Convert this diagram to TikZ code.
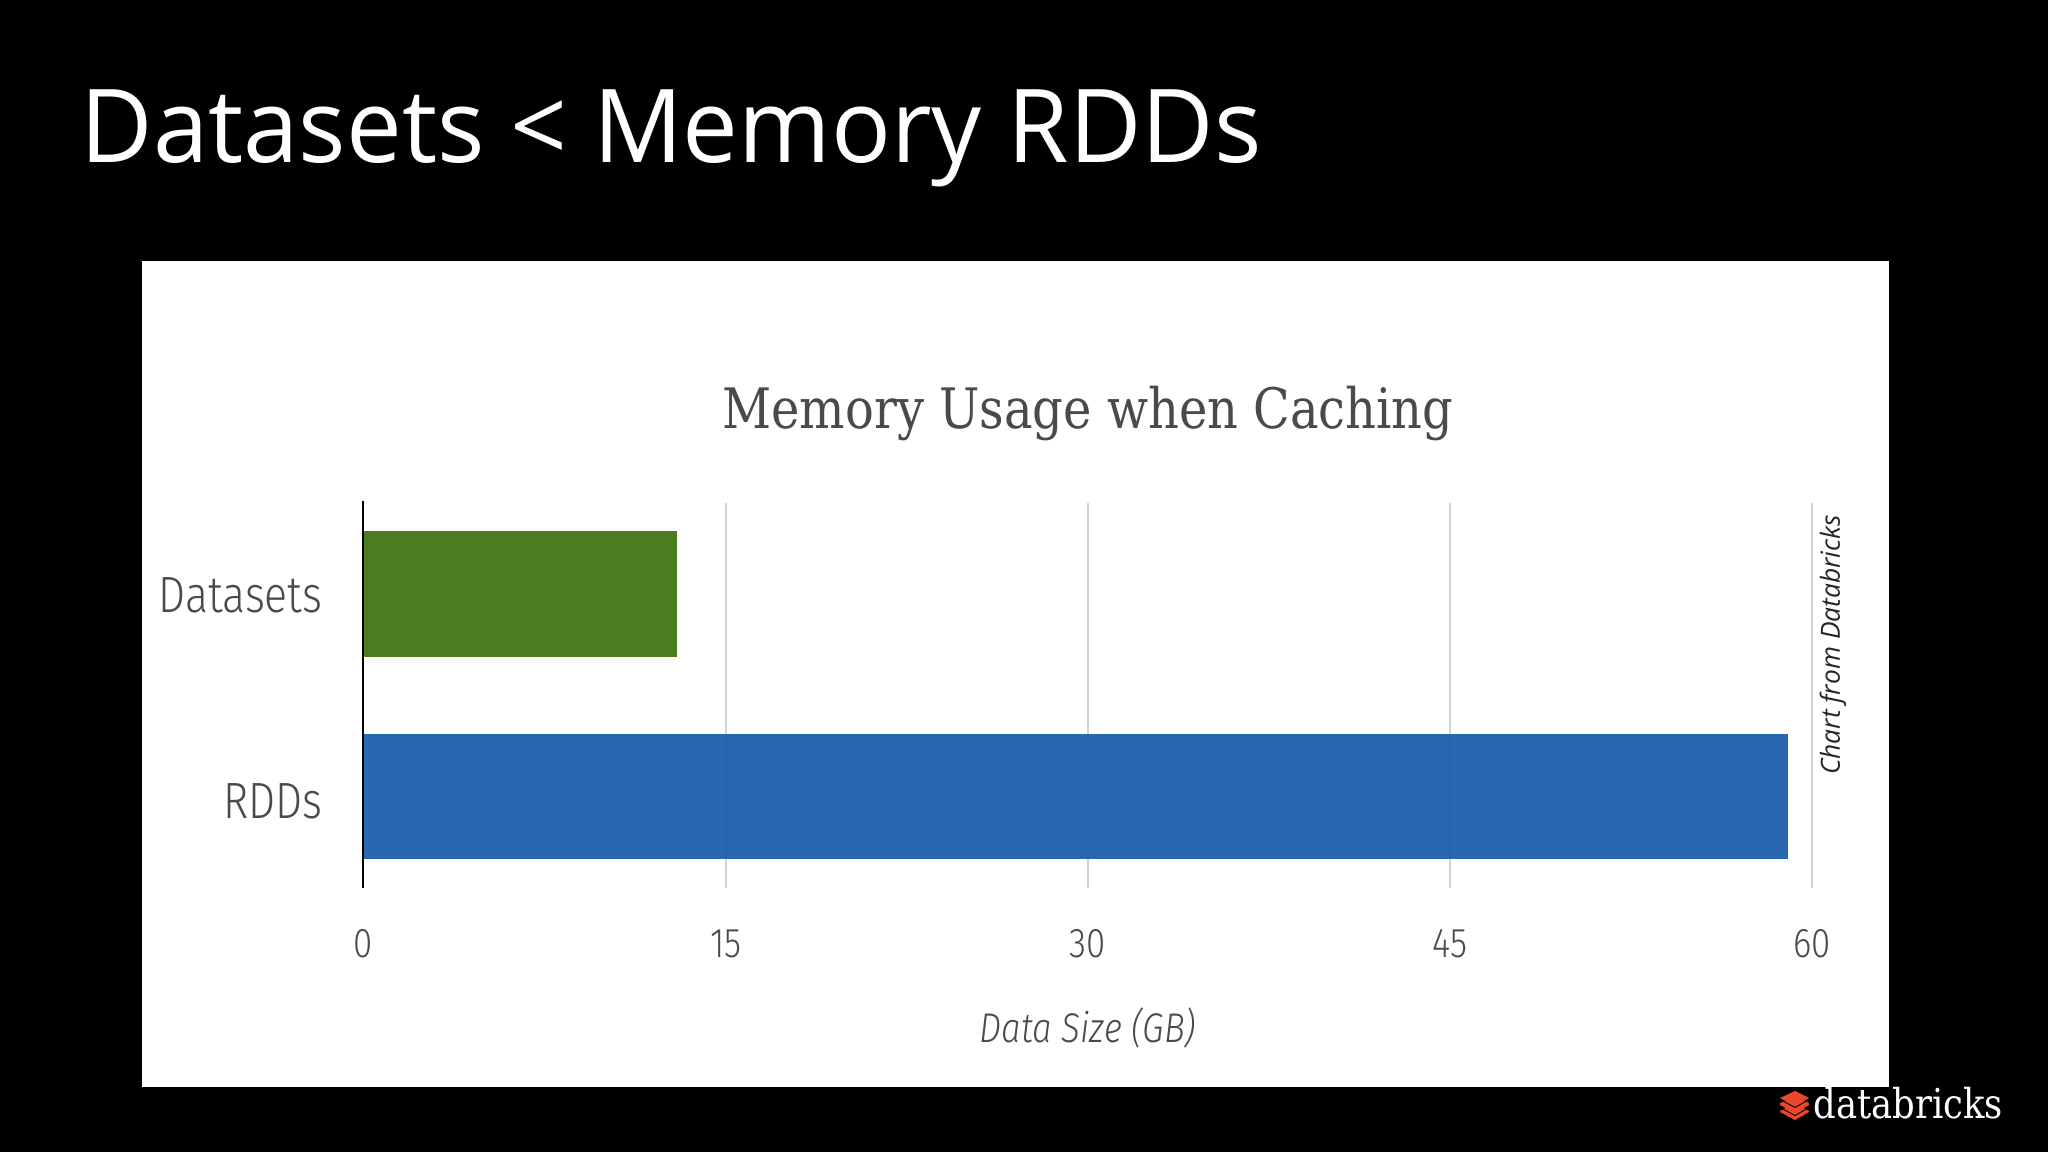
\documentclass[tikz,border=0pt]{standalone}
\usepackage{fontspec}
\setmainfont{Open Sans}
\newfontfamily\headfont[FakeStretch=0.975]{Open Sans}
\newfontfamily\chartfont[FakeStretch=0.84]{Fira Sans Light}
\newfontfamily\slabfont[FakeStretch=0.86]{DejaVu Serif}
\newfontfamily\notefont{Open Sans}
\definecolor{slidetext}{HTML}{FFFFFF}
\definecolor{charttext}{HTML}{4A4A4A}
\definecolor{gridgray}{HTML}{D2D2D2}
\definecolor{datasetgreen}{HTML}{4A7D1F}
\definecolor{rddblue}{HTML}{2868B0}
\definecolor{brickred}{HTML}{E8472B}
\tikzset{
    axislabel/.style={text=charttext, font=\chartfont\fontsize{11.8}{13}\selectfont, inner sep=0pt},
    catlabel/.style={text=charttext, font=\chartfont\fontsize{14.5}{17}\selectfont, inner sep=0pt, anchor=east},
    gridline/.style={gridgray, line width=0.7pt}
}
\begin{document}
\begin{tikzpicture}[x=0.01cm, y=-0.01cm]
    \useasboundingbox (0, 0) rectangle (2048, 1152);
    \fill[black] (0, 0) rectangle (2048, 1152);
    \node[anchor=west, inner sep=0pt, text=slidetext, font=\headfont\fontsize{29}{34}\selectfont] (title) at (80, 138) {Datasets < Memory RDDs};
    \fill[white] (142, 261) rectangle (1889, 1087);
    \node[text=charttext, inner sep=0pt, font=\slabfont\fontsize{15.85}{19}\selectfont] (charttitle) at (1088, 414) {Memory Usage when Caching};

    \foreach \xpos/\val in {726/15, 1088/30, 1450/45, 1812/60} {
        \draw[gridline] (\xpos, 503) -- (\xpos, 888);
        \node[axislabel] (tick\val) at (\xpos, 944) {\val};
    }
    \node[axislabel] (tick0) at (363, 944) {0};

    \fill[datasetgreen] (363, 531) rectangle (677, 657);
    \fill[rddblue] (363, 734) rectangle (1788, 859);
    \draw[rddblue!95!black, line width=0.6pt] (726, 734) -- (726, 859) (1088, 734) -- (1088, 859) (1450, 734) -- (1450, 859);
    \draw[black, line width=0.55pt] (363, 501) -- (363, 888);

    \node[catlabel] (datasets) at (323, 595) {Datasets};
    \node[catlabel] (rdds) at (323, 801) {RDDs};
    \node[axislabel, font=\chartfont\itshape\fontsize{11.8}{14}\selectfont] (xlabel) at (1088, 1028) {Data Size (GB)};
    \node[rotate=90, inner sep=0pt, text=black!85, font=\notefont\itshape\fontsize{7.5}{9}\selectfont] (source) at (1833, 645) {Chart from Databricks};

    % logo
    \fill[brickred] (1780, 1111) -- (1795, 1103) -- (1809, 1111) -- (1809, 1112) -- (1795, 1120) -- (1780, 1112) -- cycle;
    \fill[black] (1780, 1107) -- (1795, 1115) -- (1809, 1107) -- (1809, 1108) -- (1795, 1116) -- (1780, 1108) -- cycle;
    \fill[brickred] (1780, 1103) -- (1795, 1097) -- (1809, 1103) -- (1809, 1105) -- (1795, 1113) -- (1780, 1105) -- cycle;
    \fill[black] (1780, 1099) -- (1795, 1107) -- (1809, 1099) -- (1809, 1100) -- (1795, 1108) -- (1780, 1100) -- cycle;
    \fill[brickred] (1780, 1098) -- (1795, 1091) -- (1809, 1098) -- (1795, 1106) -- cycle;
    \node[anchor=west, inner sep=0pt, text=slidetext, font=\slabfont\fontsize{11.7}{13}\selectfont] (brand) at (1813, 1103) {databricks};
\end{tikzpicture}
\end{document}
